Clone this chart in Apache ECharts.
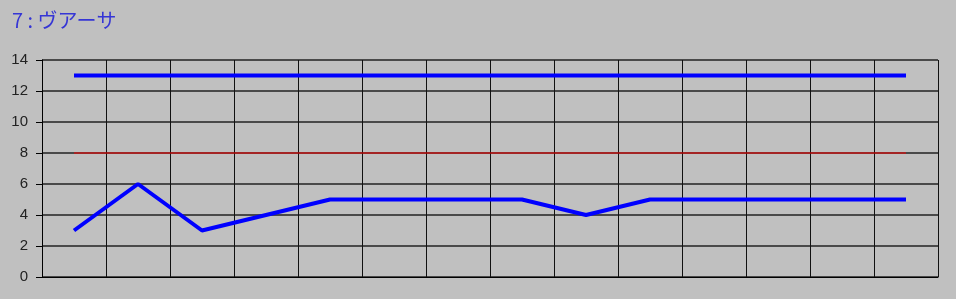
<!DOCTYPE html>
<html><head><meta charset="utf-8">
<script src="https://cdn.jsdelivr.net/npm/echarts@6/dist/echarts.min.js"></script>
<style>html,body{margin:0;padding:0;background:#c0c0c0;}#c{width:956px;height:299px;}</style>
</head><body><div id="c"></div>
<script>
var categories = ['1','2','3','4','5','6','7','8','9','10','11','12','13','14'];
var upperValues = [13,13,13,13,13,13,13,13,13,13,13,13,13,13];
var refValues = [8,8,8,8,8,8,8,8,8,8,8,8,8,8];
var mainValues = [3,6,3,4,5,5,5,5,4,5,5,5,5,5];
var titleText = '7 : ヴアーサ';

var chart = echarts.init(document.getElementById('c'), null, {renderer:'canvas'});
chart.setOption({
  backgroundColor: '#c0c0c0',
  animation: false,
  title: {text: titleText, left: 7, top: 5, textStyle: {color: '#3535d5', fontSize: 20, fontWeight: 'normal', fontFamily: 'Noto Sans CJK JP'}},
  grid: {left: 42, right: 18, top: 60, bottom: 22},
  xAxis: {
    type: 'category', data: categories, boundaryGap: true,
    axisLine: {show: true, lineStyle: {color: '#000', width: 1}},
    axisTick: {show: false}, axisLabel: {show: false},
    splitLine: {show: true, lineStyle: {color: '#111', width: 1}}
  },
  yAxis: {
    type: 'value', min: 0, max: 14, interval: 2,
    axisLine: {show: true, lineStyle: {color: '#000', width: 1}},
    axisTick: {show: true, length: 6, lineStyle: {color: '#000'}},
    axisLabel: {color: '#222', fontSize: 15, margin: 14, fontFamily: 'Liberation Sans'},
    splitLine: {show: true, lineStyle: {color: '#222', width: 1.5}}
  },
  series: [
    {type: 'line', data: upperValues, symbol: 'none', lineStyle: {color: '#0000ff', width: 4}, z: 3},
    {type: 'line', data: refValues, symbol: 'none', lineStyle: {color: '#ff0000', width: 1}, z: 2},
    {type: 'line', data: mainValues, symbol: 'none', lineStyle: {color: '#0000ff', width: 4}, z: 3}
  ]
});
</script></body></html>
